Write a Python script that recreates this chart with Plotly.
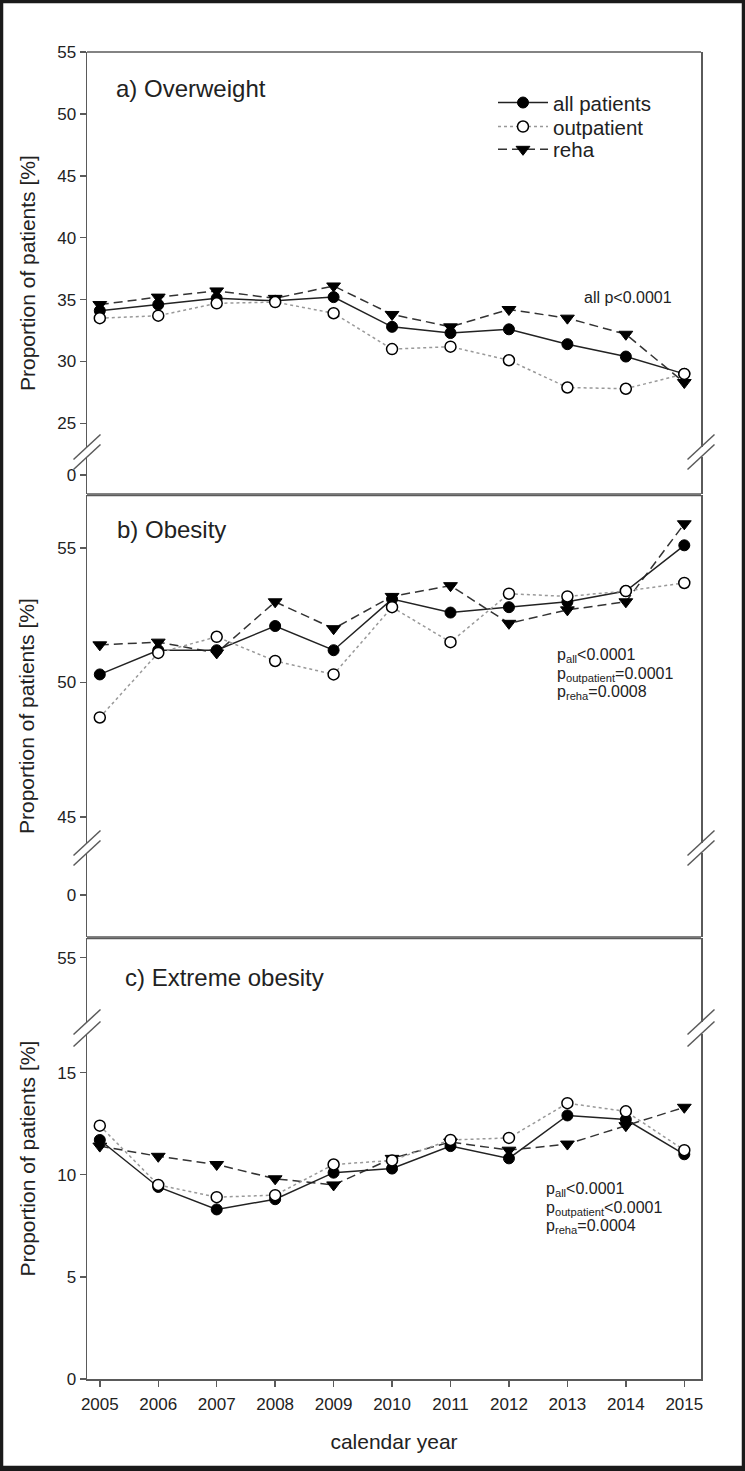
import plotly.graph_objects as go

# ---------------- data ----------------
years = [2005, 2006, 2007, 2008, 2009, 2010, 2011, 2012, 2013, 2014, 2015]

a_all = [34.1, 34.6, 35.1, 34.9, 35.2, 32.8, 32.3, 32.6, 31.4, 30.4, 29.0]
a_out = [33.5, 33.7, 34.7, 34.8, 33.9, 31.0, 31.2, 30.1, 27.9, 27.8, 29.0]
a_reha = [34.6, 35.2, 35.7, 35.1, 36.1, 33.8, 32.8, 34.2, 33.5, 32.2, 28.3]

b_all = [50.3, 51.2, 51.2, 52.1, 51.2, 53.1, 52.6, 52.8, 53.0, 53.4, 55.1]
b_out = [48.7, 51.1, 51.7, 50.8, 50.3, 52.8, 51.5, 53.3, 53.2, 53.4, 53.7]
b_reha = [51.4, 51.5, 51.1, 53.0, 52.0, 53.2, 53.6, 52.2, 52.7, 53.0, 55.9]

c_all = [11.7, 9.4, 8.3, 8.8, 10.1, 10.3, 11.4, 10.8, 12.9, 12.7, 11.0]
c_out = [12.4, 9.5, 8.9, 9.0, 10.5, 10.7, 11.7, 11.8, 13.5, 13.1, 11.2]
c_reha = [11.4, 10.9, 10.5, 9.8, 9.5, 10.8, 11.6, 11.2, 11.5, 12.4, 13.3]

series_names = ["all patients", "outpatient", "reha"]
panel_titles = ["a) Overweight", "b) Obesity", "c) Extreme obesity"]
ytitle = "Proportion of patients [%]"
xtitle = "calendar year"

# ---------------- geometry (pixels) ----------------
W, H = 745, 1471
L, R, T, B = 87, 701, 52, 1379
ML, MR, MT, MB = L, W - R, T, H - B
PW, PH = R - L, B - T


def py(p):
    return (B - p) / PH


def pxx(p):
    return (p - L) / PW


FONT = "Liberation Sans, Arial, sans-serif"
TXT = "#222222"
AX = "#5a5a5a"

fig = go.Figure()

styles = {
    "reha": dict(line=dict(color="#333333", width=1.5, dash="9px,5px"),
                 marker=dict(symbol="triangle-down", size=12, color="black",
                             line=dict(color="black", width=1))),
    "all patients": dict(line=dict(color="#222222", width=1.5),
                         marker=dict(symbol="circle", size=11, color="black",
                                     line=dict(color="black", width=1))),
    "outpatient": dict(line=dict(color="#999999", width=1.5, dash="dot"),
                       marker=dict(symbol="circle", size=11, color="white",
                                   line=dict(color="black", width=1.5))),
}
legend_of = {"all patients": "legend", "outpatient": "legend2", "reha": "legend3"}

panels = [
    ("y", {"all patients": a_all, "outpatient": a_out, "reha": a_reha}),
    ("y3", {"all patients": b_all, "outpatient": b_out, "reha": b_reha}),
    ("y6", {"all patients": c_all, "outpatient": c_out, "reha": c_reha}),
]

for i, (yax, d) in enumerate(panels):
    for name in ["reha", "all patients", "outpatient"]:
        fig.add_trace(go.Scatter(
            x=years, y=d[name], name=name, mode="lines+markers",
            xaxis="x", yaxis=yax, showlegend=(i == 0),
            legend=legend_of[name], **styles[name]))

# empty traces so that the axis-only segments of the broken axes are drawn
for yax in ["y2", "y4", "y5"]:
    fig.add_trace(go.Scatter(x=[], y=[], xaxis="x", yaxis=yax,
                             showlegend=False, hoverinfo="skip"))


def yaxis(top_pix, bot_pix, ref_val, ref_pix, ppu, tickvals):
    lo = ref_val - (bot_pix - ref_pix) / ppu
    hi = ref_val + (ref_pix - top_pix) / ppu
    return dict(domain=[py(bot_pix), py(top_pix)], range=[lo, hi],
                anchor="x", showline=True, mirror=True, linecolor=AX,
                linewidth=1.5, ticks="outside", ticklen=6, tickcolor=AX,
                tickwidth=1.5, tickvals=tickvals, showgrid=False,
                zeroline=False, tickfont=dict(family=FONT, size=17, color=TXT))


ppu_a, ppu_b, ppu_c = 12.38, 26.9, 20.43
layout_axes = dict(
    yaxis=yaxis(52, 447, 55, 52, ppu_a, [25, 30, 35, 40, 45, 50, 55]),
    yaxis2=yaxis(457, 494, 0, 475, ppu_a, [0]),
    yaxis3=yaxis(495, 843, 55, 548, ppu_b, [45, 50, 55]),
    yaxis4=yaxis(853, 937, 0, 895, ppu_b, [0]),
    yaxis5=yaxis(938, 1022, 55, 957.6, ppu_c, [55]),
    yaxis6=yaxis(1034, 1379, 0, 1379, ppu_c, [0, 5, 10, 15]),
)

ppy = 58.45
x_lo = 2005 - (99.8 - L) / ppy
x_hi = 2015 + (R - 684.3) / ppy


def leg(yc):
    return dict(x=pxx(493), y=py(yc), xanchor="left", yanchor="middle",
                bgcolor="rgba(0,0,0,0)",
                font=dict(family=FONT, size=20.5, color=TXT), itemwidth=50)


fig.update_layout(
    width=W, height=H,
    margin=dict(l=ML, r=MR, t=MT, b=MB, pad=0),
    paper_bgcolor="white", plot_bgcolor="white",
    font=dict(family=FONT, color=TXT),
    xaxis=dict(domain=[0, 1], range=[x_lo, x_hi], anchor="y6",
               showline=True, linecolor=AX, linewidth=1.5,
               ticks="outside", ticklen=6, tickcolor=AX, tickwidth=1.5,
               tickvals=years, showgrid=False, zeroline=False,
               ticklabelstandoff=3,
               tickfont=dict(family=FONT, size=17, color=TXT),
               title=dict(text=xtitle, font=dict(family=FONT, size=21, color=TXT),
                          standoff=21)),
    legend=leg(102.7),
    legend2=leg(126.7),
    legend3=leg(149.5),
    showlegend=True,
    hovermode=False,
    **layout_axes,
)

shapes = []
# outer border
shapes.append(dict(type="rect", xref="paper", yref="paper",
                   x0=pxx(1.5), x1=pxx(743.5), y0=py(1467.5), y1=py(1.5),
                   line=dict(color="#1a1a1a", width=3.5)))
shapes.append(dict(type="rect", xref="paper", yref="paper",
                   x0=pxx(0), x1=pxx(745), y0=py(1471), y1=py(1466),
                   line=dict(width=0), fillcolor="#1a1a1a"))
# panel horizontal frame lines
for yp in [52, 494, 495.5, 937, 938.5]:
    shapes.append(dict(type="line", xref="paper", yref="paper",
                       x0=0, x1=1, y0=py(yp), y1=py(yp),
                       line=dict(color=AX, width=1.5)))
# break marks
for y1p, y2p in [(447, 457), (843, 853), (1022, 1034)]:
    for xa in [L, R]:
        for yc in [y1p, y2p]:
            shapes.append(dict(type="line", xref="paper", yref="paper",
                               x0=pxx(xa - 13.5), y0=py(yc + 12.5),
                               x1=pxx(xa + 13.5), y1=py(yc - 12.5),
                               line=dict(color=AX, width=1.5)))
fig.update_layout(shapes=shapes)

ann = []
# panel titles
for t, (xp, yp) in zip(panel_titles, [(114, 88), (115, 529), (123, 977)]):
    ann.append(dict(text=t, xref="paper", yref="paper", x=pxx(xp), y=py(yp),
                    xanchor="left", yanchor="middle", showarrow=False,
                    font=dict(family=FONT, size=24, color=TXT)))
# y titles
for yc in [273, 716, 1158.5]:
    ann.append(dict(text=ytitle, xref="paper", yref="paper", x=pxx(27), y=py(yc),
                    xanchor="center", yanchor="middle", textangle=-90,
                    showarrow=False, font=dict(family=FONT, size=21, color=TXT)))
# p-value annotations
pa = [("all p&lt;0.0001", 582, 297)]
pb = [("p<sub>all</sub>&lt;0.0001", 555, 656),
      ("p<sub>outpatient</sub>=0.0001", 555, 674.5),
      ("p<sub>reha</sub>=0.0008", 555, 692.5)]
pc = [("p<sub>all</sub>&lt;0.0001", 544, 1189),
      ("p<sub>outpatient</sub>&lt;0.0001", 544, 1208),
      ("p<sub>reha</sub>=0.0004", 544, 1226.5)]
for t, xp, yp in pa + pb + pc:
    ann.append(dict(text=t, xref="paper", yref="paper", x=pxx(xp), y=py(yp),
                    xanchor="left", yanchor="middle", showarrow=False,
                    font=dict(family=FONT, size=16, color=TXT)))
fig.update_layout(annotations=ann)

fig.write_html("out.html",
               config={"displayModeBar": False, "staticPlot": True},
               post_script="document.body.style.margin='0px';"
                           "document.body.style.overflow='hidden';")
